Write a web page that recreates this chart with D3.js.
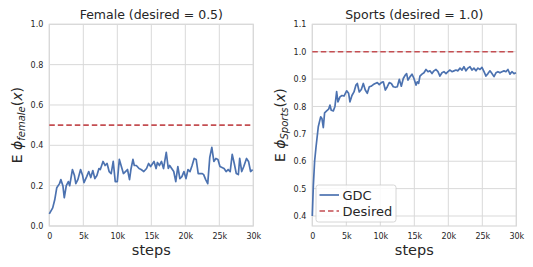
<!DOCTYPE html>
<html>
<head>
<meta charset="utf-8">
<script src="https://cdn.jsdelivr.net/npm/d3@7"></script>
<style>
  body { margin: 0; background: #fff; }
  text { font-family: "DejaVu Sans", sans-serif; fill: #262626; }
</style>
</head>
<body>
<svg id="chart" width="533" height="267"></svg>
<script>
// data (steps in thousands)
const femaleSteps = [0, 0.5, 0.8, 1.1, 1.5, 1.7, 2.0, 2.2, 2.5, 2.8, 3.0, 3.4, 3.7, 3.9, 4.2, 4.6, 4.9, 5.1, 5.5, 5.8,
  6.1, 6.4, 6.7, 7.0, 7.3, 7.5, 7.9, 8.2, 8.5, 8.8, 9.1, 9.4, 9.7, 10.0, 10.3, 10.6, 10.9, 11.2, 11.5, 11.8,
  12.0, 12.3, 12.5, 12.8, 13.2, 13.5, 13.9, 14.3, 14.6, 14.9, 15.2, 15.4, 15.7, 15.9, 16.2, 16.5, 16.8, 17.0, 17.2, 17.5,
  17.7, 18.0, 18.3, 18.6, 18.9, 19.2, 19.5, 19.8, 20.1, 20.4, 20.7, 21.0, 21.3, 21.6, 21.9, 22.2, 22.5, 22.7, 23.0, 23.3,
  23.6, 23.9, 24.2, 24.5, 24.8, 25.1, 25.4, 25.7, 26.0, 26.3, 26.6, 26.9, 27.2, 27.5, 27.8, 28.0, 28.3, 28.6, 29.0, 29.3,
  29.6, 29.9];
const femaleValues = [0.06, 0.09, 0.13, 0.19, 0.21, 0.23, 0.20, 0.14, 0.20, 0.22, 0.20, 0.28, 0.25, 0.21, 0.23, 0.28, 0.25, 0.215, 0.245, 0.27,
  0.24, 0.275, 0.235, 0.25, 0.285, 0.28, 0.32, 0.30, 0.31, 0.27, 0.26, 0.32, 0.22, 0.22, 0.33, 0.295, 0.26, 0.27, 0.28, 0.23,
  0.28, 0.33, 0.30, 0.30, 0.285, 0.28, 0.27, 0.285, 0.31, 0.295, 0.31, 0.32, 0.285, 0.315, 0.30, 0.32, 0.285, 0.325, 0.365, 0.285,
  0.30, 0.285, 0.27, 0.22, 0.295, 0.235, 0.245, 0.27, 0.235, 0.28, 0.27, 0.30, 0.335, 0.33, 0.26, 0.26, 0.26, 0.255, 0.23, 0.21,
  0.34, 0.39, 0.32, 0.335, 0.33, 0.295, 0.29, 0.285, 0.27, 0.28, 0.27, 0.355, 0.31, 0.26, 0.255, 0.335, 0.27, 0.295, 0.335, 0.32,
  0.27, 0.28];

const sportsSteps = [0, 0.15, 0.34, 0.54, 0.88, 1.23, 1.42, 1.62, 1.81, 2.11, 2.40, 2.60, 2.79, 3.09, 3.33, 3.58, 3.77, 4.07, 4.36, 4.66,
  5.05, 5.34, 5.54, 5.83, 6.13, 6.42, 6.62, 6.91, 7.21, 7.50, 7.79, 8.09, 8.38, 8.68, 8.97, 9.26, 9.56, 9.85, 10.15, 10.44,
  10.74, 11.03, 11.32, 11.62, 11.91, 12.21, 12.5, 12.79, 13.09, 13.38, 13.68, 13.87, 14.07, 14.36, 14.66, 14.95, 15.25, 15.44, 15.64, 15.83,
  16.13, 16.42, 16.72, 17.01, 17.3, 17.6, 17.89, 18.19, 18.48, 18.77, 19.07, 19.36, 19.66, 19.95, 20.25, 20.54, 20.83, 21.13, 21.42, 21.72,
  22.01, 22.3, 22.6, 22.89, 23.19, 23.48, 23.77, 24.07, 24.36, 24.66, 24.95, 25.25, 25.54, 25.83, 26.13, 26.42, 26.72, 27.01, 27.3, 27.6,
  27.89, 28.19, 28.48, 28.77, 29.07, 29.36, 29.66, 29.95];
const sportsValues = [0.40, 0.51, 0.60, 0.65, 0.726, 0.762, 0.756, 0.723, 0.777, 0.784, 0.79, 0.805, 0.786, 0.784, 0.80, 0.854, 0.817, 0.835, 0.84, 0.838,
  0.857, 0.848, 0.817, 0.84, 0.853, 0.878, 0.884, 0.853, 0.862, 0.884, 0.86, 0.848, 0.872, 0.874, 0.88, 0.884, 0.887, 0.88, 0.887, 0.89,
  0.86, 0.872, 0.887, 0.884, 0.872, 0.87, 0.872, 0.899, 0.874, 0.902, 0.915, 0.92, 0.896, 0.908, 0.918, 0.902, 0.878, 0.89, 0.884, 0.911,
  0.918, 0.923, 0.935, 0.927, 0.93, 0.92, 0.93, 0.935, 0.927, 0.911, 0.923, 0.927, 0.92, 0.927, 0.933, 0.927, 0.93, 0.933, 0.93, 0.94,
  0.933, 0.945, 0.93, 0.94, 0.945, 0.933, 0.94, 0.93, 0.94, 0.935, 0.943, 0.927, 0.911, 0.92, 0.93, 0.92, 0.909, 0.923, 0.927, 0.923,
  0.927, 0.93, 0.927, 0.935, 0.918, 0.927, 0.92, 0.923];

const xTicks = [0, 5000, 10000, 15000, 20000, 25000, 30000];
const femaleYTicks = [0, 0.2, 0.4, 0.6, 0.8, 1.0];
const sportsYTicks = [0.4, 0.5, 0.6, 0.7, 0.8, 0.9, 1.0, 1.1];

const blue = '#4C72B0';
const red = '#C44E52';
const gridColor = '#d9d9d9';

const svg = d3.select('#chart');
const plotTop = 24.3, plotBottom = 226, plotW = 204;

function drawPanel(opts) {
  const x = d3.scaleLinear().domain([0, 30000]).range([opts.left, opts.left + plotW]);
  const y = d3.scaleLinear().domain(opts.yDomain).range([plotBottom, plotTop]);
  const g = svg.append('g');

  // grid
  g.selectAll('.vgrid').data(xTicks).enter().append('line')
    .attr('x1', d => x(d)).attr('x2', d => x(d))
    .attr('y1', plotTop).attr('y2', plotBottom)
    .attr('stroke', gridColor).attr('stroke-width', 1);
  g.selectAll('.hgrid').data(opts.yTicks).enter().append('line')
    .attr('x1', opts.left).attr('x2', opts.left + plotW)
    .attr('y1', d => y(d)).attr('y2', d => y(d))
    .attr('stroke', gridColor).attr('stroke-width', 1);

  // frame
  g.append('rect')
    .attr('x', opts.left).attr('y', plotTop)
    .attr('width', plotW).attr('height', plotBottom - plotTop)
    .attr('fill', 'none').attr('stroke', gridColor).attr('stroke-width', 1.2);

  // axes (labels only, seaborn whitegrid has no tick marks)
  const xAxis = g.append('g').attr('transform', `translate(0,${plotBottom})`)
    .call(d3.axisBottom(x).tickValues(xTicks).tickSize(0).tickPadding(7)
      .tickFormat(d => d === 0 ? '0' : (d / 1000) + 'k'));
  const yAxis = g.append('g').attr('transform', `translate(${opts.left},0)`)
    .call(d3.axisLeft(y).tickValues(opts.yTicks).tickSize(0).tickPadding(6)
      .tickFormat(d3.format('.1f')));
  [xAxis, yAxis].forEach(a => {
    a.select('.domain').remove();
    a.selectAll('text').style('font-size', '8px').attr('fill', '#262626')
      .style('font-family', '"DejaVu Sans", sans-serif');
  });

  // desired line
  g.append('line')
    .attr('x1', opts.left).attr('x2', opts.left + plotW)
    .attr('y1', y(opts.desired)).attr('y2', y(opts.desired))
    .attr('stroke', red).attr('stroke-width', 1.6)
    .attr('stroke-dasharray', '5.5,3');

  // GDC line
  const line = d3.line().x(d => x(d[0] * 1000)).y(d => y(d[1]));
  g.append('path')
    .datum(d3.zip(opts.steps, opts.values))
    .attr('d', line)
    .attr('fill', 'none').attr('stroke', blue)
    .attr('stroke-width', 1.7).attr('stroke-linejoin', 'round');

  // title
  g.append('text')
    .attr('x', opts.left + plotW / 2).attr('y', 19)
    .attr('text-anchor', 'middle').style('font-size', '12.5px')
    .text(opts.title);

  // x label
  g.append('text')
    .attr('x', opts.left + plotW / 2).attr('y', 255)
    .attr('text-anchor', 'middle').style('font-size', '14.5px')
    .text('steps');

  // y label
  const yl = g.append('text')
    .attr('transform', `translate(${opts.left - 27},${(plotTop + plotBottom) / 2}) rotate(-90)`)
    .attr('text-anchor', 'middle').style('font-size', '14px');
  yl.append('tspan').text('E ');
  yl.append('tspan').style('font-style', 'italic').text('ϕ');
  yl.append('tspan').style('font-style', 'italic').style('font-size', '10px')
    .attr('dy', 3).text(opts.sub);
  yl.append('tspan').attr('dy', -3).text('(');
  yl.append('tspan').style('font-style', 'italic').text('x');
  yl.append('tspan').text(')');

  return { x, y, g };
}

drawPanel({
  left: 49.3, yDomain: [0, 1], yTicks: femaleYTicks, desired: 0.5,
  steps: femaleSteps, values: femaleValues,
  title: 'Female (desired = 0.5)', sub: 'female'
});

const right = drawPanel({
  left: 312.3, yDomain: [0.3635, 1.1], yTicks: sportsYTicks, desired: 1.0,
  steps: sportsSteps, values: sportsValues,
  title: 'Sports (desired = 1.0)', sub: 'Sports'
});

// legend
const legendItems = [
  { label: 'GDC', color: blue, dash: null },
  { label: 'Desired', color: red, dash: '5.5,3' }
];
const lg = right.g.append('g').attr('transform', 'translate(316,185)');
lg.append('rect')
  .attr('width', 80).attr('height', 37).attr('rx', 2.5)
  .attr('fill', '#fff').attr('fill-opacity', 0.85)
  .attr('stroke', '#cccccc').attr('stroke-width', 0.8);
legendItems.forEach((d, i) => {
  const cy = 10 + i * 16;
  lg.append('line')
    .attr('x1', 3.5).attr('x2', 23).attr('y1', cy).attr('y2', cy)
    .attr('stroke', d.color).attr('stroke-width', 1.7)
    .attr('stroke-dasharray', d.dash);
  lg.append('text')
    .attr('x', 26.5).attr('y', cy + 4.7)
    .style('font-size', '13px').text(d.label);
});
</script>
</body>
</html>
